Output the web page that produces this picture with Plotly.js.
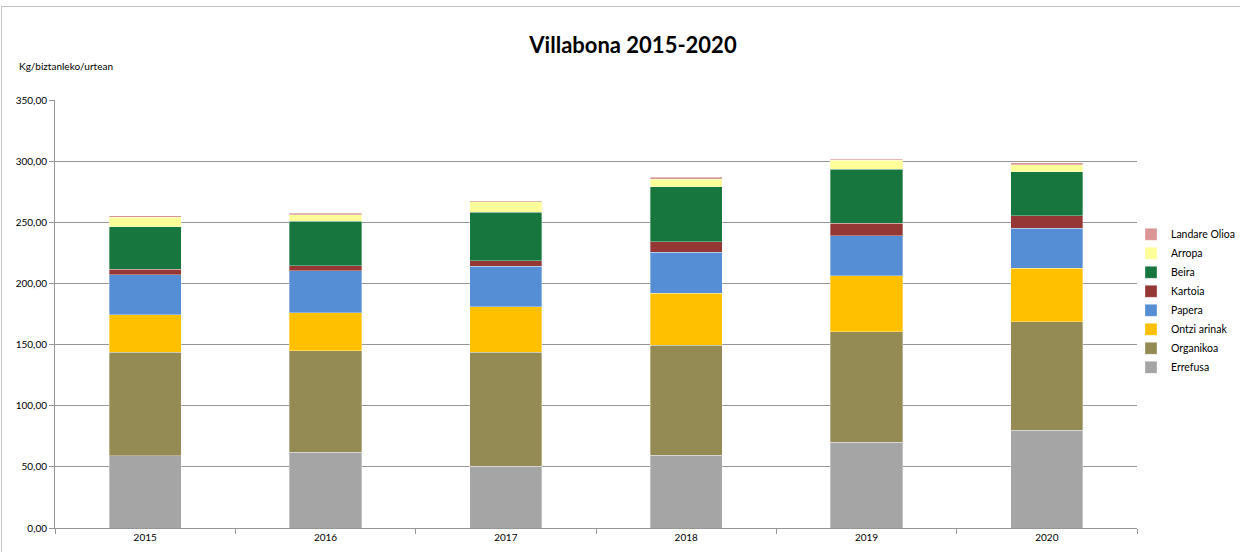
<!DOCTYPE html>
<html>
<head>
<meta charset="utf-8">
<script src="https://cdn.plot.ly/plotly-3.0.1.min.js"></script>
<style>
  html, body { margin: 0; padding: 0; background: #fff; }
  #frame { position: absolute; left: 1px; top: 6px; width: 1250px; height: 560px;
           border-top: 1.5px solid #c4c4c4; border-left: 1.5px solid #c4c4c4; pointer-events: none; }
  #chart { width: 1240px; height: 552px; }
</style>
</head>
<body>
<div id="chart"></div>
<div id="frame"></div>
<script>
const years = ['2015', '2016', '2017', '2018', '2019', '2020'];

const errefusa    = [58.9, 62.1, 50.4, 59.7, 70.1, 80.1];
const organikoa   = [84.8, 82.9, 93.5, 89.9, 90.5, 88.6];
const ontziArinak = [30.7, 31.1, 37.1, 42.3, 45.7, 43.9];
const papera      = [32.5, 34.1, 33.0, 33.5, 32.5, 32.7];
const kartoia     = [4.6, 4.3, 4.6, 8.7, 10.3, 10.1];
const beira       = [34.9, 36.5, 39.8, 45.0, 44.2, 36.0];
const arropa      = [7.6, 5.0, 8.2, 6.3, 7.4, 5.7];
const landareOlioa = [1.4, 1.3, 1.1, 1.6, 1.0, 1.4];

const seriesNames = ['Errefusa', 'Organikoa', 'Ontzi arinak', 'Papera', 'Kartoia', 'Beira', 'Arropa', 'Landare Olioa'];
const seriesValues = [errefusa, organikoa, ontziArinak, papera, kartoia, beira, arropa, landareOlioa];
const seriesColors = ['#A5A5A5', '#948A54', '#FFC000', '#558ED5', '#953735', '#17763E', '#FFFF99', '#D99694'];

const font = 'Lato, "Open Sans", "Liberation Sans", sans-serif';

const traces = seriesNames.map((name, i) => ({
  type: 'bar',
  name: name,
  x: years,
  y: seriesValues[i],
  marker: { color: seriesColors[i], line: { color: 'rgba(255,255,255,0.55)', width: 0.6 } },
  hovertemplate: '%{x}: %{y:.2f}<extra>' + name + '</extra>'
}));

const layout = {
  width: 1240,
  height: 552,
  barmode: 'stack',
  bargap: 0.6,
  paper_bgcolor: '#ffffff',
  plot_bgcolor: '#ffffff',
  separators: ',.',
  margin: { l: 55, r: 103, t: 100, b: 24, autoexpand: false },
  font: { family: font, size: 10, color: '#000' },
  title: {
    text: '<b>Villabona 2015-2020</b>',
    font: { family: font, size: 22, color: '#000' },
    xref: 'container', x: 633 / 1240, xanchor: 'center',
    yref: 'container', y: 1 - 45 / 552, yanchor: 'middle'
  },
  xaxis: {
    type: 'category',
    showgrid: false,
    showline: true,
    linecolor: '#969696',
    linewidth: 1,
    ticks: 'outside',
    tickson: 'boundaries',
    ticklen: 5,
    tickcolor: '#969696',
    tickfont: { family: font, size: 10, color: '#000' },
    fixedrange: true
  },
  yaxis: {
    range: [0, 350],
    dtick: 50,
    tickformat: '.2f',
    showgrid: true,
    gridcolor: '#969696',
    gridwidth: 1,
    showline: true,
    linecolor: '#969696',
    linewidth: 1,
    ticks: 'outside',
    ticklen: 5,
    tickcolor: '#969696',
    zeroline: false,
    tickfont: { family: font, size: 10, color: '#000' },
    fixedrange: true
  },
  legend: {
    traceorder: 'reversed',
    x: (1131 - 55) / 1082, xanchor: 'left',
    y: 0.72, yanchor: 'top',
    font: { family: font, size: 10.5, color: '#000' },
    bgcolor: 'rgba(0,0,0,0)',
    itemwidth: 30,
    tracegroupgap: 0
  },
  annotations: [{
    text: 'Kg/biztanleko/urtean',
    xref: 'paper', yref: 'paper',
    x: (17 - 55) / 1082, xanchor: 'left',
    y: (528 - 66) / 428, yanchor: 'middle',
    showarrow: false,
    font: { family: font, size: 10, color: '#000' }
  }]
};

Plotly.newPlot('chart', traces, layout, { displayModeBar: false, staticPlot: false });
</script>
</body>
</html>
